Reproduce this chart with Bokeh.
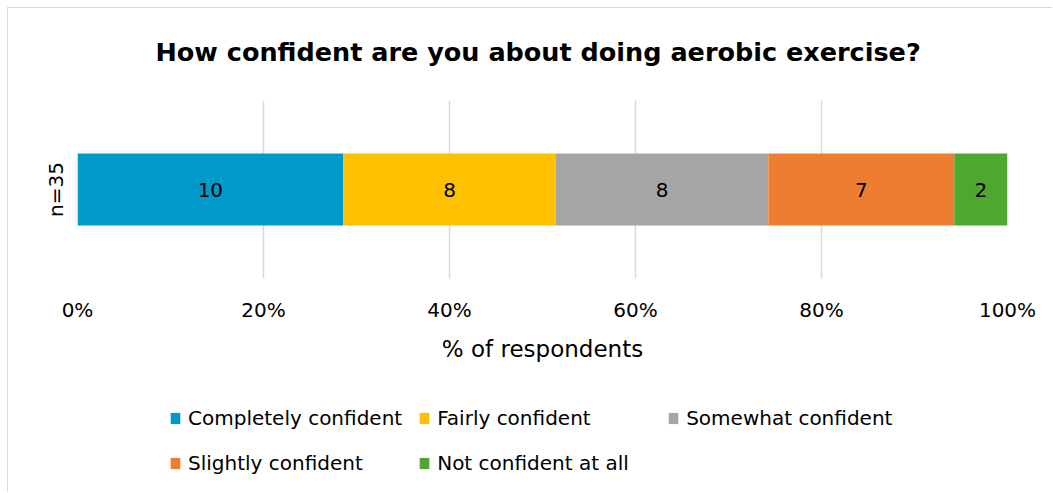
from bokeh.plotting import figure
from bokeh.layouts import column
from bokeh.models import ColumnDataSource, FactorRange, Range1d, Legend, LegendItem, FixedTicker
from bokeh.core.properties import value
from bokeh.embed import file_html
from bokeh.resources import INLINE

# ---- data ----
categories = ["Completely confident", "Fairly confident", "Somewhat confident",
              "Slightly confident", "Not confident at all"]
counts = [10, 8, 8, 7, 2]
colors = ["#0099CC", "#FFC000", "#A5A5A5", "#ED7D31", "#4EA72E"]
group = ["n=35"]
ticks = [0, 20, 40, 60, 80, 100]
tick_labels = ["0%", "20%", "40%", "60%", "80%", "100%"]
title_text = "How confident are you about doing aerobic exercise?"
x_title = "% of respondents"

FONT = "DejaVu Sans"

total = sum(counts)
pct = [c / total * 100 for c in counts]
lefts, rights = [], []
acc = 0.0
for v in pct:
    lefts.append(acc)
    acc += v
    rights.append(acc)
mids = [(l + r) / 2 for l, r in zip(lefts, rights)]

# ---- main chart ----
p = figure(y_range=FactorRange(*group), x_range=Range1d(0, 100),
           frame_width=930, frame_height=178, output_backend="svg", toolbar_location=None,
           min_border_left=70, min_border_right=45, min_border_top=100, min_border_bottom=92)
p.border_fill_color = None
p.background_fill_color = None

for cat, l, r, col in zip(categories, lefts, rights, colors):
    p.hbar(y=[group[0]], left=[l], right=[r], height=0.405, fill_color=col, line_color=None)

src = ColumnDataSource(dict(x=mids, y=[group[0]] * len(counts), t=[str(c) for c in counts]))
p.text(x="x", y="y", text="t", source=src, text_align="center", text_baseline="middle",
       text_font=value(FONT), text_font_size="20px", text_color="#000000")

p.title.text = title_text
p.title.align = "left"
p.title.offset = 78
p.title.text_font = FONT
p.title.text_font_size = "25.5px"
p.title.text_font_style = "bold"
p.title.text_color = "#000000"
p.title.standoff = 68

p.xaxis.ticker = FixedTicker(ticks=ticks)
p.xaxis.major_label_overrides = dict(zip(ticks, tick_labels))
p.xaxis.axis_label = x_title
for ax in (p.xaxis, p.yaxis):
    ax.axis_line_color = None
    ax.major_tick_line_color = None
    ax.minor_tick_line_color = None
    ax.major_tick_out = 0
    ax.major_label_text_font = FONT
    ax.major_label_text_font_size = "20px"
    ax.major_label_text_color = "#000000"
p.xaxis.major_label_standoff = 19
p.xaxis.axis_label_text_font = FONT
p.xaxis.axis_label_text_font_size = "23px"
p.xaxis.axis_label_text_font_style = "normal"
p.xaxis.axis_label_text_color = "#000000"
p.xaxis.axis_label_standoff = 11
p.yaxis.major_label_orientation = "vertical"
p.yaxis.major_label_standoff = 10

p.xgrid.grid_line_color = "#D9D9D9"
p.xgrid.grid_line_width = 1.5
p.ygrid.grid_line_color = None
p.outline_line_color = None

# ---- legend panel ----
lg = figure(width=1045, height=122, output_backend="svg", toolbar_location=None,
            x_axis_type=None, y_axis_type=None, x_range=Range1d(0, 1), y_range=Range1d(0, 1),
            min_border_left=0, min_border_right=0, min_border_top=0, min_border_bottom=0)
lg.grid.grid_line_color = None
lg.outline_line_color = None
lg.border_fill_color = None
lg.background_fill_color = None

items = []
for cat, col in zip(categories, colors):
    # legend-key renderers, kept outside the visible range of this legend-only panel
    rr = lg.hbar(y=[-5], left=[0], right=[1], height=0.5, fill_color=col, line_color=None)
    items.append(LegendItem(label=cat, renderers=[rr]))

legend = Legend(items=items, orientation="horizontal", ncols=3, location=(92, 15),
                border_line_color=None, background_fill_alpha=0,
                label_text_font=FONT, label_text_font_size="20px", label_text_color="#000000",
                glyph_width=12, glyph_height=14, label_standoff=7, label_width=214,
                label_height=29, spacing=16, padding=0, margin=0)
lg.add_layout(legend)

layout = column(p, lg, spacing=0)
layout.styles = {
    "margin-left": "7px",
    "background-color": "#FFFFFF",
    "background-image": "linear-gradient(#D9D9D9, #D9D9D9), linear-gradient(#D9D9D9, #D9D9D9)",
    "background-size": "100% 1px, 1px 100%",
    "background-position": "0 7px, 0 7px",
    "background-repeat": "no-repeat",
}

open("out.html", "w").write(file_html(layout, INLINE))
